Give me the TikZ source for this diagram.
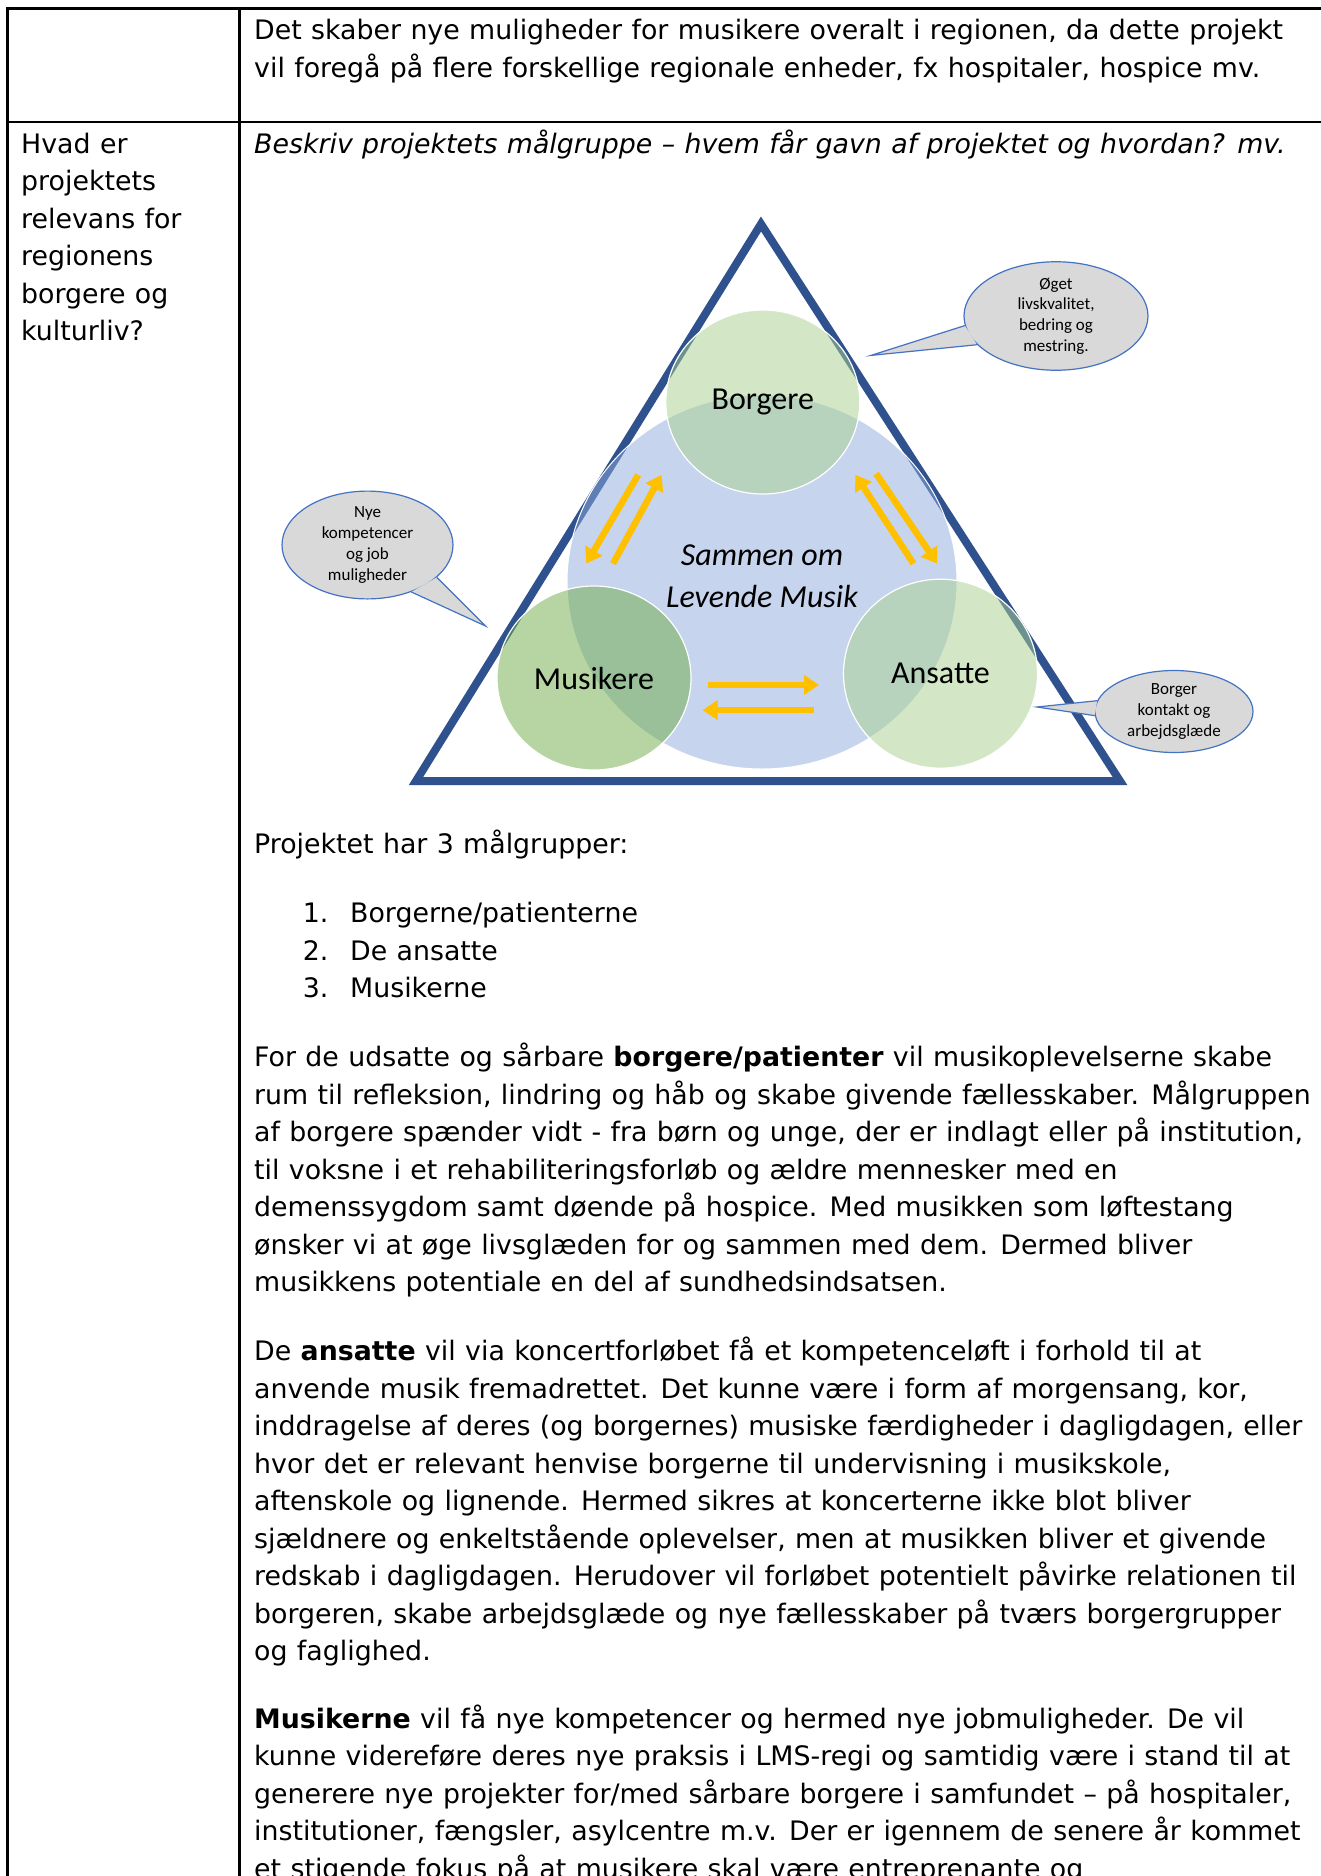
\documentclass[tikz,border=0pt]{standalone}
\usepackage{fontspec}
\setmainfont{DejaVu Sans}[WordSpace=1.1]
\newfontfamily\calibri{Carlito}
\usetikzlibrary{arrows.meta,shapes.geometric}
\definecolor{tricol}{HTML}{2F528F}
\definecolor{bluefill}{HTML}{8FAADC}
\definecolor{glight}{HTML}{A9D18E}
\definecolor{gdark}{HTML}{70AD47}
\definecolor{yel}{HTML}{FFC000}
\definecolor{bubfill}{HTML}{D9D9D9}
\definecolor{bubline}{HTML}{4472C4}
\begin{document}
\begin{tikzpicture}[x=1pt,y=-1pt,
  body/.style={anchor=mid west, inner sep=0pt, font=\fontsize{26.8}{32}\selectfont},
  ital/.style={body, font=\fontsize{26.8}{32}\selectfont\itshape},
  tbl/.style={line width=2.4pt, black},
  tri/.style={draw=tricol, line width=8pt, line join=miter},
  gcircle/.style={ellipse, draw=white, line width=1.2pt, fill opacity=0.5, text opacity=1,
     minimum width=194pt, minimum height=184pt, inner sep=0pt,
     font=\calibri\fontsize{32}{36}\selectfont},
  yarr/.style={draw=yel, line width=6.5pt, -{Triangle[width=19pt,length=15pt]}},
  bubble/.style={ellipse, draw=bubline, line width=1.2pt, fill=bubfill, inner sep=0pt,
     align=center, font=\calibri\fontsize{17}{20.8}\selectfont},
  tail/.style={draw=bubline, line width=1.2pt},
  dtext/.style={anchor=mid, inner sep=0pt, font=\calibri\itshape\fontsize{32}{36}\selectfont}
]
\useasboundingbox (0,0) rectangle (1321,1876);
\fill[white] (0,0) rectangle (1321,1876);
\clip (0,0) rectangle (1321,1876);

% table frame
\draw[tbl] (1321,8.7) -- (7.5,8.7) -- (7.5,1880);
\draw[tbl] (239.5,8.7) -- (239.5,1880);
\draw[tbl] (7.5,122) -- (1321,122);

% row 1
\node[body] (r1a) at (254,37.2) {Det skaber nye muligheder for musikere overalt i regionen, da dette projekt};
\node[body] (r1b) at (254,74.3) {vil foregå på flere forskellige regionale enheder, fx hospitaler, hospice mv.};

% left column
\node[body] (q1) at (21,150.8) {Hvad er};
\node[body] (q2) at (21,188.2) {projektets};
\node[body] (q3) at (21,225.6) {relevans for};
\node[body] (q4) at (21,263.1) {regionens};
\node[body] (q5) at (21,300.5) {borgere og};
\node[body] (q6) at (21,337.9) {kulturliv?};

\node[ital] (intro) at (254,150.8) {Beskriv projektets målgruppe – hvem får gavn af projektet og hvordan? mv.};

% diagram
\coordinate (apex) at (761,224);
\coordinate (tbl) at (416,781);
\coordinate (tbr) at (1120,781);
\draw[tri] (apex) -- (tbl) -- (tbr) -- cycle;

\node[ellipse, fill=bluefill, fill opacity=0.5, draw=white, line width=1pt,
      minimum width=390pt, minimum height=374pt, inner sep=0pt] (core) at (762,582) {};
\node[gcircle, fill=glight] (borg) at (762.8,402) {Borgere};
\node[gcircle, fill=gdark] (musi) at (594,678) {Musikere};
\node[gcircle, fill=glight, minimum height=189pt] (ansa) at (940.5,673.7) {Ansatte};

\node[dtext] (sam1) at (762,563) {Sammen om};
\node[dtext] (sam2) at (762,605) {Levende Musik};

\coordinate (la1) at (638.2,474.8); \coordinate (la2) at (586.3,563.6);
\coordinate (lb1) at (613,563.6);   \coordinate (lb2) at (661.5,474.8);
\coordinate (ra1) at (913.5,563.6); \coordinate (ra2) at (855.3,474.8);
\coordinate (rb1) at (876.1,473.6); \coordinate (rb2) at (937.3,563.6);
\coordinate (ba1) at (707.5,684.9); \coordinate (ba2) at (819,684.9);
\coordinate (bb1) at (814.1,710.1); \coordinate (bb2) at (702.6,710.1);
\draw[yarr] (la1) -- (la2);
\draw[yarr] (lb1) -- (lb2);
\draw[yarr] (ra1) -- (ra2);
\draw[yarr] (rb1) -- (rb2);
\draw[yarr] (ba1) -- (ba2);
\draw[yarr] (bb1) -- (bb2);

% speech bubbles
\node[bubble, minimum width=184pt, minimum height=105pt] (bubA) at (1056,316) {Øget\\livskvalitet,\\bedring og\\mestring.};
\coordinate (tipA) at (871,355.4);
\fill[bubfill] (bubA.186) -- (tipA) -- (bubA.200) -- cycle;
\draw[tail] (bubA.186) -- (tipA) -- (bubA.200);

\node[bubble, minimum width=171pt, minimum height=102pt] (bubB) at (367.5,545) {Nye\\kompetencer\\og job\\muligheder};
\coordinate (tipB) at (485.5,626);
\fill[bubfill] (bubB.335) -- (tipB) -- (bubB.313) -- cycle;
\draw[tail] (bubB.335) -- (tipB) -- (bubB.313);

\node[bubble, minimum width=158pt, minimum height=82pt] (bubC) at (1174,711.5) {Borger\\kontakt og\\arbejdsglæde};
\coordinate (tipC) at (1037,707);
\fill[bubfill] (bubC.172) -- (tipC) -- (bubC.183) -- cycle;
\draw[tail] (bubC.172) -- (tipC) -- (bubC.183);

% body text
\node[body] (p0) at (254,850.8) {Projektet har 3 målgrupper:};
\node[body] (n1) at (302.6,920.2) {1.};
\node[body] (n2) at (302.6,957.3) {2.};
\node[body] (n3) at (302.6,994.4) {3.};
\node[body] (l1) at (350,920.2) {Borgerne/patienterne};
\node[body] (l2) at (350,957.3) {De ansatte};
\node[body] (l3) at (350,994.4) {Musikerne};

\node[body] (a1) at (254,1063.8) {For de udsatte og sårbare \textbf{borgere/patienter} vil musikoplevelserne skabe};
\node[body] (a2) at (254,1101.3) {rum til refleksion, lindring og håb og skabe givende fællesskaber. Målgruppen};
\node[body] (a3) at (254,1138.8) {af borgere spænder vidt - fra børn og unge, der er indlagt eller på institution,};
\node[body] (a4) at (254,1176.3) {til voksne i et rehabiliteringsforløb og ældre mennesker med en};
\node[body] (a5) at (254,1213.8) {demenssygdom samt døende på hospice. Med musikken som løftestang};
\node[body] (a6) at (254,1251.3) {ønsker vi at øge livsglæden for og sammen med dem. Dermed bliver};
\node[body] (a7) at (254,1288.8) {musikkens potentiale en del af sundhedsindsatsen.};

\node[body] (b1) at (254,1358.2) {De \textbf{ansatte} vil via koncertforløbet få et kompetenceløft i forhold til at};
\node[body] (b2) at (254,1395.7) {anvende musik fremadrettet. Det kunne være i form af morgensang, kor,};
\node[body] (b3) at (254,1433.2) {inddragelse af deres (og borgernes) musiske færdigheder i dagligdagen, eller};
\node[body] (b4) at (254,1470.7) {hvor det er relevant henvise borgerne til undervisning i musikskole,};
\node[body] (b5) at (254,1508.2) {aftenskole og lignende. Hermed sikres at koncerterne ikke blot bliver};
\node[body] (b6) at (254,1545.7) {sjældnere og enkeltstående oplevelser, men at musikken bliver et givende};
\node[body] (b7) at (254,1583.2) {redskab i dagligdagen. Herudover vil forløbet potentielt påvirke relationen til};
\node[body] (b8) at (254,1620.7) {borgeren, skabe arbejdsglæde og nye fællesskaber på tværs borgergrupper};
\node[body] (b9) at (254,1658.2) {og faglighed.};

\node[body] (c1) at (254,1725.6) {\textbf{Musikerne} vil få nye kompetencer og hermed nye jobmuligheder. De vil};
\node[body] (c2) at (254,1763.1) {kunne videreføre deres nye praksis i LMS-regi og samtidig være i stand til at};
\node[body] (c3) at (254,1800.6) {generere nye projekter for/med sårbare borgere i samfundet – på hospitaler,};
\node[body] (c4) at (254,1838.1) {institutioner, fængsler, asylcentre m.v. Der er igennem de senere år kommet};
\node[body] (c5) at (254,1875.6) {et stigende fokus på at musikere skal være entreprenante og};
\end{tikzpicture}
\end{document}
